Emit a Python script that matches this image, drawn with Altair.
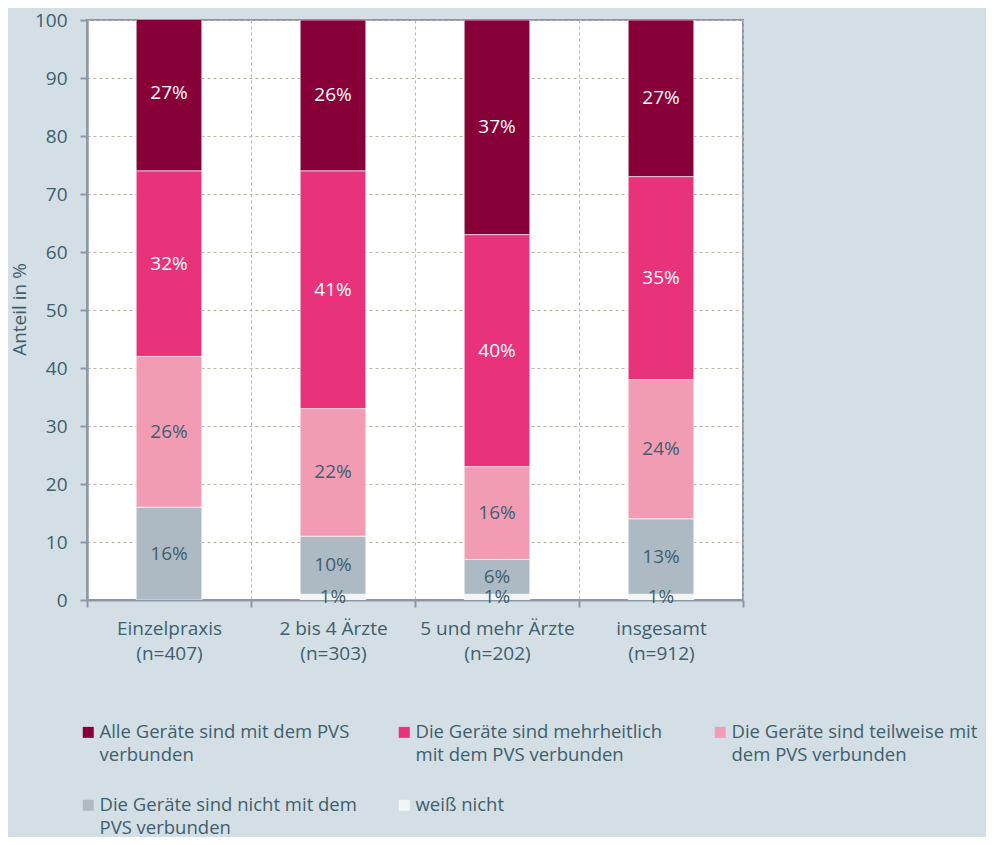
import altair as alt
import pandas as pd

# ---- data ----
categories = ["Einzelpraxis|(n=407)", "2 bis 4 Ärzte|(n=303)",
              "5 und mehr Ärzte|(n=202)", "insgesamt|(n=912)"]
series = ["Alle Geräte sind mit dem PVS|verbunden",
          "Die Geräte sind mehrheitlich|mit dem PVS verbunden",
          "Die Geräte sind teilweise mit|dem PVS verbunden",
          "Die Geräte sind nicht mit dem|PVS verbunden",
          "weiß nicht"]
alle = [27, 26, 37, 27]
mehrheitlich = [32, 41, 40, 35]
teilweise = [26, 22, 16, 24]
nicht = [16, 10, 6, 13]
weiss_nicht = [0, 1, 1, 1]

colors = ["#870038", "#e8327a", "#f29cb4", "#adbac3", "#f3f4f6"]
TEXT = "#3f5e6e"
GRID = "#bdb6a8"
AXIS = "#8e97a7"
BG = "#d3dee5"
FONT = "Open Sans"

# stacking bottom -> top
stack_series = [series[4], series[3], series[2], series[1], series[0]]
stack_vals = [weiss_nicht, nicht, teilweise, mehrheitlich, alle]

rows = []
for ci, cat in enumerate(categories):
    base = 0
    for si, (s, vals) in enumerate(zip(stack_series, stack_vals)):
        v = vals[ci]
        rows.append({"cat": cat, "series": s, "idx": si, "value": v,
                     "y0": base, "y1": base + v, "mid": base + v / 2,
                     "label": f"{v}%"})
        base += v
df = pd.DataFrame(rows)

x_enc = alt.X("cat:N", sort=categories,
              scale=alt.Scale(paddingInner=0, paddingOuter=0),
              axis=alt.Axis(title=None, labelAngle=0,
                            labelExpr="split(datum.label, '|')",
                            labelFont=FONT, labelFontSize=19, labelColor=TEXT,
                            labelLineHeight=25, labelPadding=12,
                            labelBaseline="top",
                            tickBand="extent", tickSize=7, tickWidth=2,
                            tickColor=AXIS, domainColor=AXIS, domainWidth=2,
                            grid=True, gridColor=GRID, gridDash=[3, 3],
                            gridWidth=1))

y_scale = alt.Scale(domain=[0, 100], nice=False)

bars = alt.Chart(df).mark_bar(
    width=alt.RelativeBandSize(0.4), clip=True,
    stroke="white", strokeWidth=0.6
).encode(
    x=x_enc,
    y=alt.Y("y0:Q", scale=y_scale,
            axis=alt.Axis(values=list(range(0, 101, 10)),
                          title="Anteil in %", titleFont=FONT,
                          titleFontSize=19, titleFontWeight="normal",
                          titleColor=TEXT, titleAngle=-90,
                          titleX=-68, titleY=289, titleAlign="center",
                          titleBaseline="middle",
                          labelFont=FONT, labelFontSize=19, labelColor=TEXT,
                          labelPadding=13, tickSize=7, tickWidth=2,
                          tickColor=AXIS, domainColor=AXIS, domainWidth=2.5,
                          grid=True, gridColor=GRID, gridDash=[3, 3],
                          gridWidth=1)),
    y2="y1:Q",
    color=alt.Color("series:N",
                    scale=alt.Scale(domain=series, range=colors),
                    legend=alt.Legend(
                        title=None, orient="none", legendX=-8, legendY=703,
                        direction="horizontal", columns=3, gridAlign="all",
                        symbolType="square", symbolSize=121,
                        symbolStrokeWidth=0, symbolOpacity=1,
                        labelFont=FONT, labelFontSize=18.5, labelColor=TEXT,
                        labelExpr="split(datum.label, '|')", labelLimit=500,
                        labelOffset=2, labelBaseline="middle",
                        columnPadding=38, rowPadding=31, padding=0)),
    order=alt.Order("idx:Q", sort="ascending"),
)

text_base = alt.Chart(df).transform_filter("datum.value > 0")

text_white = text_base.transform_filter("datum.idx >= 3").mark_text(
    font=FONT, fontSize=19, color="white", baseline="middle"
).encode(x=alt.X("cat:N", sort=categories), y=alt.Y("mid:Q", scale=y_scale),
         text="label:N")

text_dark = text_base.transform_filter("datum.idx < 3").mark_text(
    font=FONT, fontSize=19, color=TEXT, baseline="middle"
).encode(x=alt.X("cat:N", sort=categories), y=alt.Y("mid:Q", scale=y_scale),
         text="label:N")

chart = alt.layer(bars, text_white, text_dark).properties(
    width=656, height=580,
    padding={"left": 79, "top": 12, "right": 243, "bottom": 237},
    autosize=alt.AutoSizeParams(type="none"),
    background=BG,
).configure(
    style={"guide-label": {"lineHeight": 23}}
).configure_view(
    fill="white", stroke=AXIS, strokeWidth=2
)

chart.save("out.html", embed_options={"renderer": "svg", "actions": False})
